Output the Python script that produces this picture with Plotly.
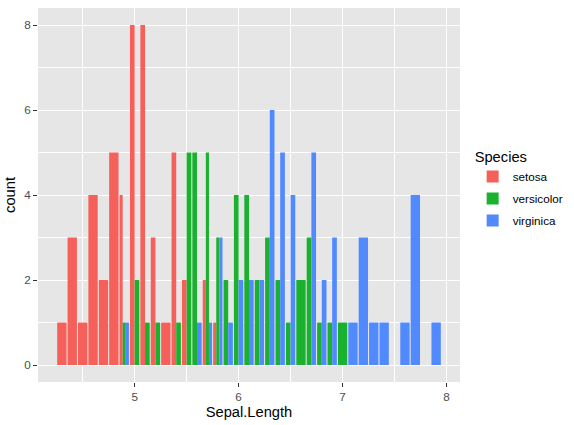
import plotly.graph_objects as go

species = ["setosa", "versicolor", "virginica"]
colors = ["#F5615A", "#1AB12F", "#5189FF"]

setosa_x = [4.3, 4.4, 4.5, 4.6, 4.7, 4.8, 4.9, 5.0, 5.1, 5.2, 5.3, 5.4, 5.5, 5.7, 5.8]
setosa_n = [1, 3, 1, 4, 2, 5, 4, 8, 8, 3, 1, 5, 2, 2, 1]

versicolor_x = [4.9, 5.0, 5.1, 5.2, 5.4, 5.5, 5.6, 5.7, 5.8, 5.9, 6.0, 6.1, 6.2, 6.3,
                6.4, 6.5, 6.6, 6.7, 6.8, 6.9, 7.0]
versicolor_n = [1, 2, 1, 1, 1, 5, 5, 5, 3, 2, 4, 4, 2, 3, 2, 1, 2, 3, 1, 1, 1]

virginica_x = [4.9, 5.6, 5.7, 5.8, 5.9, 6.0, 6.1, 6.2, 6.3, 6.4, 6.5, 6.7, 6.8, 6.9,
               7.1, 7.2, 7.3, 7.4, 7.6, 7.7, 7.9]
virginica_n = [1, 1, 1, 3, 1, 2, 2, 2, 6, 5, 4, 5, 2, 3, 1, 3, 1, 1, 1, 4, 1]

xs = [setosa_x, versicolor_x, virginica_x]
ns = [setosa_n, versicolor_n, virginica_n]

BAR_W = 0.09  # 0.9 * data resolution (ggplot default)

# dodge: split bar width among groups present at each x
present = {}
for si, xl in enumerate(xs):
    for x in xl:
        present.setdefault(round(x, 2), []).append(si)

fig = go.Figure()
for si, (name, col) in enumerate(zip(species, colors)):
    widths, offsets = [], []
    for x in xs[si]:
        grp = sorted(present[round(x, 2)])
        k = len(grp)
        idx = grp.index(si)
        w = BAR_W / k
        widths.append(w)
        offsets.append(-BAR_W / 2 + idx * w)
    fig.add_trace(go.Bar(
        x=xs[si], y=ns[si], name=name, width=widths, offset=offsets,
        legendgroup=name,
        marker=dict(color=col, opacity=1, line=dict(width=0)),
        opacity=1,
    ))

font_family = "Liberation Sans, Arial, Helvetica, sans-serif"
fig.update_layout(
    width=574, height=425,
    barmode="overlay",
    paper_bgcolor="white",
    plot_bgcolor="#E6E6E6",
    margin=dict(l=38, r=114, t=8, b=43, pad=0, autoexpand=False),
    font=dict(family=font_family, color="#4D4D4D", size=11.7),
    legend=dict(
        title=dict(text="Species", font=dict(size=14.7, color="black")),
        font=dict(size=11.7, color="black"),
        x=1.03, xanchor="left", y=0.515, yanchor="middle",
        bgcolor="rgba(0,0,0,0)", tracegroupgap=3,
        itemsizing="constant", itemwidth=30,
    ),
    showlegend=True,
)
fig.update_xaxes(
    range=[4.0705, 8.1295], tick0=5, dtick=1,
    showgrid=True, gridcolor="white", gridwidth=1.1,
    minor=dict(dtick=0.5, showgrid=True, gridcolor="white", gridwidth=0.55),
    ticks="outside", ticklen=4, tickcolor="#333333", tickwidth=1.1,
    tickfont=dict(size=11.7, color="#4D4D4D"),
    zeroline=False, showline=False, automargin=False,
    title=dict(text="Sepal.Length", font=dict(size=14.7, color="black"), standoff=4),
)
fig.update_yaxes(
    range=[-0.4, 8.4], tick0=0, dtick=2,
    showgrid=True, gridcolor="white", gridwidth=1.1,
    minor=dict(dtick=1, showgrid=True, gridcolor="white", gridwidth=0.55),
    ticks="outside", ticklen=4, tickcolor="#333333", tickwidth=1.1,
    tickfont=dict(size=11.7, color="#4D4D4D"),
    zeroline=False, showline=False, automargin=False,
    title=dict(text="count", font=dict(size=14.7, color="black"), standoff=4),
)

fig.write_html(
    "out.html",
    config={"displayModeBar": False},
    post_script="document.body.style.margin='0';document.body.style.padding='0';",
)
